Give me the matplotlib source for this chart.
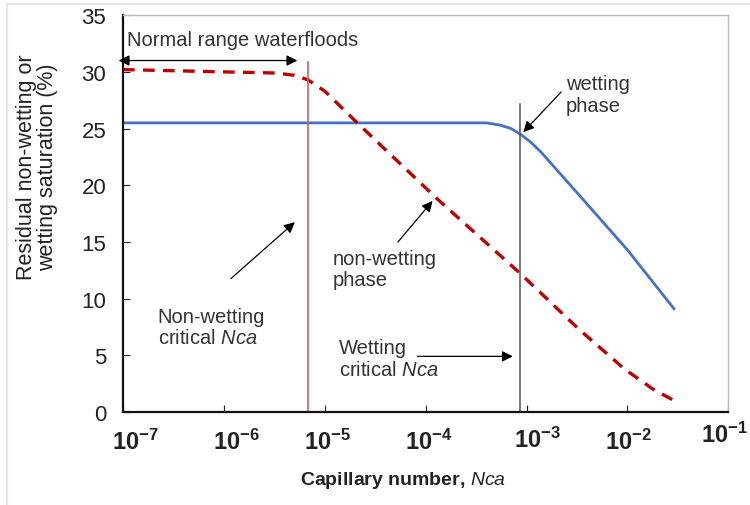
import matplotlib.pyplot as plt
from matplotlib.lines import Line2D
from matplotlib.transforms import ScaledTranslation

plt.rcParams['font.family'] = ['Liberation Sans', 'DejaVu Sans']
plt.rcParams['mathtext.fontset'] = 'custom'
plt.rcParams['mathtext.rm'] = 'Liberation Sans'
plt.rcParams['mathtext.bf'] = 'Liberation Sans:bold'
plt.rcParams['mathtext.it'] = 'Liberation Sans:italic'

# curves (capillary number, saturation %)
wet_x = [1e-7, 1e-6, 1e-5, 1e-4, 2.5e-4, 4.0e-4, 5.5e-4, 7.0e-4, 8.7e-4,
         1.1e-3, 1.4e-3, 3.2e-3, 1e-2, 2.9e-2]
wet_y = [25.5, 25.5, 25.5, 25.5, 25.5, 25.5, 25.3, 25.0, 24.5,
         23.8, 22.9, 19.3, 14.3, 9.1]

nonwet_x = [1e-7, 1e-6, 3.2e-6, 5.0e-6, 6.8e-6, 1e-5, 2.1e-5, 1.3e-4,
            8.7e-4, 3.3e-3, 9.3e-3, 1.8e-2, 2.9e-2]
nonwet_y = [30.2, 30.0, 29.9, 29.7, 29.3, 28.3, 25.5, 18.8,
            12.2, 7.3, 3.8, 2.0, 1.0]

nonwet_crit = 6.8e-6
wet_crit = 8.7e-4

xticks = [1e-7, 1e-6, 1e-5, 1e-4, 1e-3, 1e-2, 1e-1]
xlabels = [r'$\mathbf{10^{-7}}$', r'$\mathbf{10^{-6}}$', r'$\mathbf{10^{-5}}$',
           r'$\mathbf{10^{-4}}$', r'$\mathbf{10^{-3}}$', r'$\mathbf{10^{-2}}$',
           r'$\mathbf{10^{-1}}$']
yticks = [0, 5, 10, 15, 20, 25, 30, 35]

fig = plt.figure(figsize=(7.5, 5.06), dpi=100)
ax = fig.add_axes([0.164, 0.184, 0.807, 0.784])

ax.plot(wet_x, wet_y, color='#4472C4', lw=2)
ax.plot(nonwet_x, nonwet_y, color='#C00000', lw=2.4, ls=(0, (3.5, 2.5)))

ax.plot([nonwet_crit, nonwet_crit], [0, 30.9], color='#C86464', lw=1.2)
ax.plot([wet_crit, wet_crit], [0, 27.2], color='#555555', lw=1.1)

ax.set_xscale('log')
ax.set_xlim(1e-7, 1e-1)
ax.set_ylim(0, 35)
ax.set_xticks(xticks)
ax.set_xticklabels(xlabels, fontsize=17)
ax.minorticks_off()
ax.set_yticks(yticks)
ax.tick_params(axis='y', labelsize=16, direction='in', length=5, pad=12, colors='#222222')
ax.tick_params(axis='x', direction='in', length=5, pad=12, colors='#222222')

# the reference's decade labels sit a little off their ticks
shifts = [(9, 0), (9, 0), (2, 0), (2, 0), (8, 1), (1, 0), (-3, 5)]
for lab, (dx, dy) in zip(ax.get_xticklabels(), shifts):
    lab.set_transform(lab.get_transform() + ScaledTranslation(dx / 72, dy / 72, fig.dpi_scale_trans))

for s in ['top', 'right']:
    ax.spines[s].set_color('#BBBBBB')
    ax.spines[s].set_linewidth(1)
for s in ['left', 'bottom']:
    ax.spines[s].set_color('#111111')
    ax.spines[s].set_linewidth(1.6)

ax.set_ylabel('Residual non-wetting or\nwetting saturation (%)', fontsize=15.5,
              color='#222222', linespacing=1.0)
ax.yaxis.set_label_coords(-0.107, 0.62)
ax.set_xlabel(r'Capillary number, $\mathbf{\mathit{Nca}}$', fontsize=14,
              fontweight='bold', color='#222222')
ax.xaxis.set_label_coords(0.462, -0.145)

txt = '#333333'
fs = 14.5
arr = dict(arrowstyle='-|>', color='black', lw=0.9, mutation_scale=16)
ax.text(1.1e-7, 32.4, 'Normal range waterfloods', fontsize=fs, color=txt)
ax.annotate('', xy=(8.5e-8, 31.0), xytext=(5.7e-6, 31.0),
            arrowprops=dict(arrowstyle='<|-|>', color='black', lw=0.9, mutation_scale=16),
            annotation_clip=False)

ax.text(2.45e-3, 28.0, 'wetting\nphase', fontsize=fs, color=txt, va='center',
        linespacing=1.15)
ax.annotate('', xy=(8.9e-4, 24.5), xytext=(2.3e-3, 28.4), arrowprops=arr)

ax.text(1.2e-5, 12.6, 'non-wetting\nphase', fontsize=fs, color=txt, va='center',
        linespacing=1.15)
ax.annotate('', xy=(1.22e-4, 18.8), xytext=(5.1e-5, 14.8), arrowprops=arr)

ax.text(2.2e-7, 7.5, 'Non-wetting\ncritical $\\it{Nca}$', fontsize=fs, color=txt,
        va='center', linespacing=1.15)
ax.annotate('', xy=(5.3e-6, 16.9), xytext=(1.12e-6, 11.6), arrowprops=arr)

ax.text(1.38e-5, 4.7, 'Wetting\ncritical $\\it{Nca}$', fontsize=fs, color=txt,
        va='center', linespacing=1.15)
ax.annotate('', xy=(7.8e-4, 4.9), xytext=(7.8e-5, 4.9), arrowprops=arr)

# thin frame of the original picture
fig.add_artist(Line2D([0.009, 1.0], [0.99, 0.99], color='#E6E6E6', lw=1.5))
fig.add_artist(Line2D([0.009, 0.009], [0.0, 0.99], color='#E6E6E6', lw=1.5))

fig.savefig('out.png', dpi=100)
